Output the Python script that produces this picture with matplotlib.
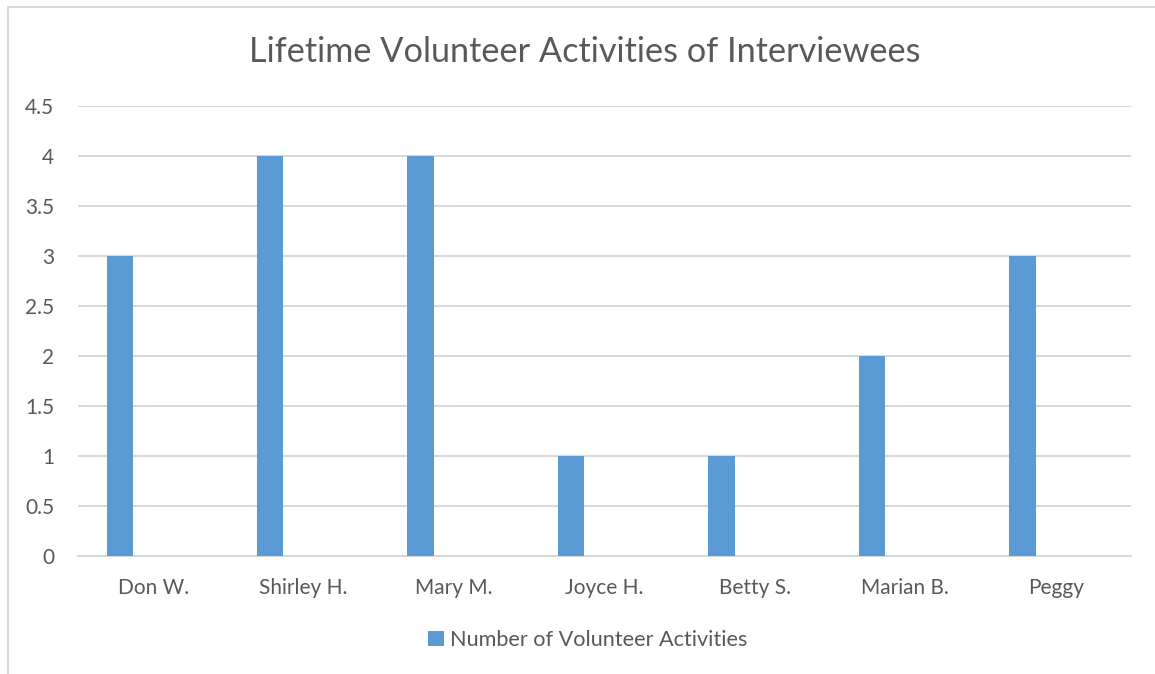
import matplotlib
matplotlib.use('Agg')
import matplotlib.pyplot as plt
from matplotlib.patches import Rectangle

# data
names = ['Don W.', 'Shirley H.', 'Mary M.', 'Joyce H.', 'Betty S.', 'Marian B.', 'Peggy']
activities = [3, 4, 4, 1, 1, 2, 3]
yticks = [0, 0.5, 1, 1.5, 2, 2.5, 3, 3.5, 4, 4.5]

plt.rcParams['font.family'] = ['Lato', 'DejaVu Sans']
txt = '#595959'
grid = '#D9D9D9'

W, H = 1155, 674
fig = plt.figure(figsize=(W / 100, H / 100), dpi=100)

# outer chart border (runs off right and bottom of the picture)
fig.patches.append(Rectangle((8 / W, -0.1), 1.2, 1 - 7 / H + 0.1, transform=fig.transFigure,
                             fill=False, edgecolor=grid, linewidth=1.5))

ax = fig.add_axes([78 / W, 1 - 556 / H, (1131 - 78) / W, (556 - 105.5) / H])

x = range(len(names))
ax.bar([i - 0.31 for i in x], activities, width=0.176, align='edge',
       color='#5B9BD5', zorder=3, label='Number of Volunteer Activities')

ax.set_xlim(-0.5, len(names) - 0.5)
ax.set_ylim(0, 4.5)
ax.set_yticks(yticks)
ax.set_yticklabels([('%g' % v) for v in yticks])
ax.set_xticks(list(x))
ax.set_xticklabels(names)
ax.tick_params(axis='both', length=0, labelsize=15, labelcolor=txt)
ax.tick_params(axis='x', pad=16)
ax.tick_params(axis='y', pad=17)
ax.grid(axis='y', color=grid, linewidth=1.5, zorder=0)
for s in ['top', 'right', 'left']:
    ax.spines[s].set_visible(False)
ax.spines['bottom'].set_color(grid)
ax.spines['bottom'].set_linewidth(1.5)

fig.text(585 / W, 1 - 52 / H, 'Lifetime Volunteer Activities of Interviewees',
         ha='center', va='center', fontsize=24.7, color=txt)

fig.legend(loc='center', bbox_to_anchor=(588 / W, 1 - 640 / H), frameon=False,
           fontsize=15.6, labelcolor=txt, handlelength=0.7, handleheight=0.7,
           handletextpad=0.3)

fig.savefig('out.png', dpi=100)
